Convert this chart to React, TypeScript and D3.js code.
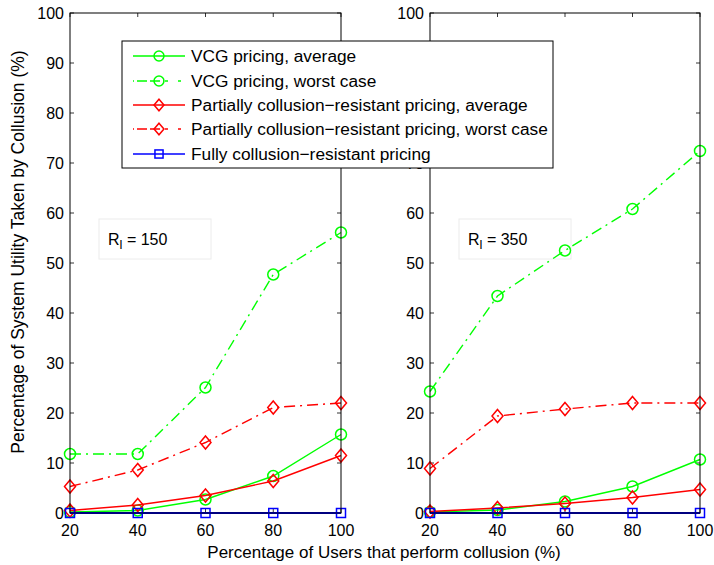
import React from "react";
import * as d3 from "d3";

const xTicks = [20, 40, 60, 80, 100];
const yTicks = [0, 10, 20, 30, 40, 50, 60, 70, 80, 90, 100];

// R_l = 150
const leftVcgAvg = [0.2, 0.5, 2.7, 7.4, 15.7];
const leftVcgWorst = [11.8, 11.8, 25.1, 47.7, 56.1];
const leftPartialAvg = [0.5, 1.6, 3.5, 6.4, 11.5];
const leftPartialWorst = [5.3, 8.6, 14.1, 21.1, 22.0];
const leftFully = [0, 0, 0, 0, 0];

// R_l = 350
const rightVcgAvg = [0.2, 0.6, 2.3, 5.3, 10.7];
const rightVcgWorst = [24.3, 43.4, 52.5, 60.8, 72.4];
const rightPartialAvg = [0.3, 1.0, 1.9, 3.1, 4.7];
const rightPartialWorst = [8.9, 19.4, 20.8, 22.0, 22.0];
const rightFully = [0, 0, 0, 0, 0];

const seriesNames = [
  "VCG pricing, average",
  "VCG pricing, worst case",
  "Partially collusion\u2212resistant pricing, average",
  "Partially collusion\u2212resistant pricing, worst case",
  "Fully collusion\u2212resistant pricing",
];

type Marker = "circle" | "diamond" | "square";
interface Style { color: string; dash: string | undefined; marker: Marker; width: number; }

const DASHDOT = "11,5,2,5";
const styles: Style[] = [
  { color: "#00ff00", dash: undefined, marker: "circle", width: 1.4 },
  { color: "#00ff00", dash: DASHDOT, marker: "circle", width: 1.4 },
  { color: "#ff0000", dash: undefined, marker: "diamond", width: 1.4 },
  { color: "#ff0000", dash: DASHDOT, marker: "diamond", width: 1.4 },
  { color: "#0000ff", dash: undefined, marker: "square", width: 2 },
];

const FONT = "Liberation Sans, Arial, Helvetica, sans-serif";
const W = 714;
const H = 565;
const TOP = 13;
const BOTTOM = 513;

function MarkerShape({ m, x, y, color, size = 1 }: { m: Marker; x: number; y: number; color: string; size?: number }) {
  if (m === "circle") {
    return <circle cx={x} cy={y} r={5.5 * size} fill="none" stroke={color} strokeWidth={1.5} />;
  }
  if (m === "diamond") {
    const w = 5.5 * size, h = 6.5 * size;
    return (
      <path
        d={`M${x},${y - h}L${x + w},${y}L${x},${y + h}L${x - w},${y}Z`}
        fill="none"
        stroke={color}
        strokeWidth={1.5}
      />
    );
  }
  const s = 4.5 * size;
  return <rect x={x - s} y={y - s} width={2 * s} height={2 * s} fill="none" stroke={color} strokeWidth={1.5} />;
}

function Panel({
  x0,
  x1,
  data,
  label,
  hiddenLabels = [],
}: {
  x0: number;
  x1: number;
  data: number[][];
  label: string;
  hiddenLabels?: number[];
}) {
  const x = d3.scaleLinear().domain([20, 100]).range([x0, x1]);
  const y = d3.scaleLinear().domain([0, 100]).range([BOTTOM, TOP]);
  const line = d3
    .line<number>()
    .x((_, i) => x(xTicks[i]))
    .y((v) => y(v));
  const tick = 4;
  return (
    <g>
      <rect x={x0} y={TOP} width={x1 - x0} height={BOTTOM - TOP} fill="#fff" />
      {/* ticks on all four sides, pointing inward */}
      {xTicks.map((t) => (
        <g key={"xt" + t}>
          <line x1={x(t)} x2={x(t)} y1={BOTTOM} y2={BOTTOM - tick} stroke="#000" strokeWidth={0.8} />
          <line x1={x(t)} x2={x(t)} y1={TOP} y2={TOP + tick} stroke="#000" strokeWidth={0.8} />
          <text x={x(t)} y={BOTTOM + 23} textAnchor="middle" fontSize={16} fontFamily={FONT} fill="#000">
            {t}
          </text>
        </g>
      ))}
      {yTicks.map((t) => (
        <g key={"yt" + t}>
          <line x1={x0} x2={x0 + tick} y1={y(t)} y2={y(t)} stroke="#000" strokeWidth={0.8} />
          <line x1={x1} x2={x1 - tick} y1={y(t)} y2={y(t)} stroke="#000" strokeWidth={0.8} />
          {hiddenLabels.includes(t) ? null : (
            <text x={x0 - 6} y={y(t) + 5.5} textAnchor="end" fontSize={16} fontFamily={FONT} fill="#000">
              {t}
            </text>
          )}
        </g>
      ))}
      {/* annotation box */}
      <rect x={x0 + 29} y={219} width={112} height={40} fill="#fff" stroke="#ececec" strokeWidth={1} />
      <text x={x0 + 38} y={245} fontSize={16} fontFamily={FONT} fill="#000">
        R
        <tspan fontSize={13} dy={4}>l</tspan>
        <tspan dy={-4}>{" = " + label}</tspan>
      </text>
      {data.map((vals, si) => {
        const st = styles[si];
        return (
          <g key={"s" + si}>
            <path d={line(vals) || ""} fill="none" stroke={st.color} strokeWidth={st.width} strokeDasharray={st.dash} />
            {vals.map((v, i) => (
              <MarkerShape key={i} m={st.marker} x={x(xTicks[i])} y={y(v)} color={st.color} />
            ))}
          </g>
        );
      })}
      <rect x={x0} y={TOP} width={x1 - x0} height={BOTTOM - TOP} fill="none" stroke="#000" strokeWidth={1} />
    </g>
  );
}

export default function App() {
  const leftData = [leftVcgAvg, leftVcgWorst, leftPartialAvg, leftPartialWorst, leftFully];
  const rightData = [rightVcgAvg, rightVcgWorst, rightPartialAvg, rightPartialWorst, rightFully];
  const legendRows = [56, 81, 105, 129, 154];
  return (
    <svg
      width={W}
      height={H}
      viewBox={`0 0 ${W} ${H}`}
      style={{ position: "absolute", left: 0, top: 0, background: "#fff" }}
    >
      <rect width={W} height={H} fill="#fff" />
      <Panel x0={70} x1={341} data={leftData} label="150" />
      {/* the legend sits over this panel's 80 and 90 labels */}
      <Panel x0={430} x1={700} data={rightData} label="350" hiddenLabels={[80, 90]} />
      <text
        transform="translate(24,252) rotate(-90)"
        textAnchor="middle"
        fontSize={17.5}
        fontFamily={FONT}
        fill="#000"
      >
        Percentage of System Utility Taken by Collusion (%)
      </text>
      <text x={384} y={558} textAnchor="middle" fontSize={17} fontFamily={FONT} fill="#000">
        Percentage of Users that perform collusion (%)
      </text>
      {/* legend */}
      <g>
        <rect x={122} y={41} width={431} height={127} fill="#fff" stroke="#000" strokeWidth={1} />
        {seriesNames.map((name, i) => {
          const st = styles[i];
          const ry = legendRows[i];
          return (
            <g key={name}>
              <line
                x1={133}
                x2={185}
                y1={ry}
                y2={ry}
                stroke={st.color}
                strokeWidth={st.width === 2 ? 1.5 : 1.4}
                strokeDasharray={st.dash ? "1,3,10,3,10,3,1" : undefined}
              />
              <MarkerShape m={st.marker} x={159} y={ry} color={st.color} size={0.9} />
              <text x={191} y={ry + 6} fontSize={17.3} fontFamily={FONT} fill="#000">
                {name}
              </text>
            </g>
          );
        })}
      </g>
    </svg>
  );
}
